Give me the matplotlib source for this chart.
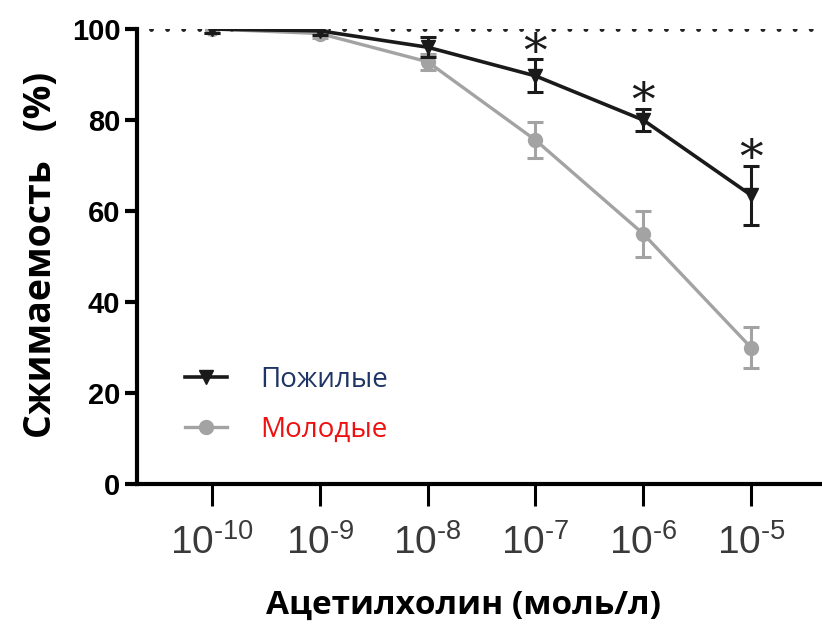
import matplotlib.pyplot as plt
from matplotlib.lines import Line2D

# concentrations of acetylcholine, mol/l
conc = [1e-10, 1e-9, 1e-8, 1e-7, 1e-6, 1e-5]
tick_labels = [r'$10^{\text{-10}}$', r'$10^{\text{-9}}$', r'$10^{\text{-8}}$',
               r'$10^{\text{-7}}$', r'$10^{\text{-6}}$', r'$10^{\text{-5}}$']

# elderly (black, triangles)
old_mean = [100, 99.6, 96.0, 89.7, 80.0, 63.5]
old_err = [0.8, 1.0, 2.2, 3.6, 2.4, 6.5]

# young (gray, circles)
young_mean = [100, 99.0, 92.8, 75.6, 55.0, 30.0]
young_err = [0.8, 1.0, 1.8, 4.0, 5.0, 4.6]

# points with significant difference
star_idx = [3, 4, 5]

plt.rcParams['font.family'] = ['Liberation Sans', 'DejaVu Sans']
plt.rcParams['mathtext.fontset'] = 'custom'
plt.rcParams['mathtext.rm'] = 'Liberation Sans'
plt.rcParams['mathtext.it'] = 'Liberation Sans'

fig = plt.figure(figsize=(8.22, 6.28), dpi=100)
ax = fig.add_axes([0.1667, 0.2293, 0.8333, 0.7245])

gray = '#a3a3a3'
black = '#1a1a1a'
ax.axhline(100, color='#222222', lw=3.5, ls=(0, (0.01, 3.3)), dash_capstyle='round',
           xmin=0.02, zorder=1)

ax.errorbar(conc, young_mean, yerr=young_err, color=gray, marker='o', ms=10,
            lw=2.4, elinewidth=2.2, capsize=6, capthick=2.2, zorder=2)
ax.errorbar(conc, old_mean, yerr=old_err, color=black, marker='v', ms=10,
            lw=2.6, elinewidth=2.2, capsize=6, capthick=2.2, zorder=3)

for i in star_idx:
    ax.annotate('*', (conc[i], old_mean[i] + old_err[i]), xytext=(0, 4),
                textcoords='offset points', ha='center', va='center',
                fontsize=34, family='DejaVu Serif', color=black, annotation_clip=False)

ax.set_xscale('log')
ax.set_xlim(10 ** -10.696, 10 ** -4.341)
ax.set_ylim(0, 100)
ax.set_xticks(conc)
ax.set_xticklabels(tick_labels, fontsize=28, color='#3a3a3a')
ax.minorticks_off()
ax.set_yticks([0, 20, 40, 60, 80, 100])
ax.set_yticklabels(['0', '20', '40', '60', '80', '100'], fontsize=21, fontweight='bold')

for side in ['top', 'right']:
    ax.spines[side].set_visible(False)
ax.spines['left'].set_linewidth(3)
ax.spines['bottom'].set_linewidth(3)
ax.tick_params(axis='y', length=9, width=3, pad=3)
ax.tick_params(axis='x', length=16, width=2.2, pad=13)

ax.set_ylabel('Сжимаемость   (%)', fontsize=27, fontweight='bold', family='Open Sans')
ax.yaxis.set_label_coords(-0.112, 0.503)
ax.set_xlabel('Ацетилхолин (моль/л)', fontsize=24, fontweight='bold', family='Open Sans')
ax.xaxis.set_label_coords(0.476, -0.23)

handles = [Line2D([], [], color=black, marker='v', ms=10, lw=2.6),
           Line2D([], [], color=gray, marker='o', ms=10, lw=2.4)]
leg = ax.legend(handles, ['Пожилые', 'Молодые'], loc='upper left', bbox_to_anchor=(0.05, 0.29),
                frameon=False, handlelength=1.5, handletextpad=1.2, borderpad=0,
                labelspacing=0.8, prop={'family': 'Open Sans', 'size': 20})
leg.get_texts()[0].set_color('#1f3466')
leg.get_texts()[1].set_color('#ee1111')

fig.savefig('out.png', dpi=100)
